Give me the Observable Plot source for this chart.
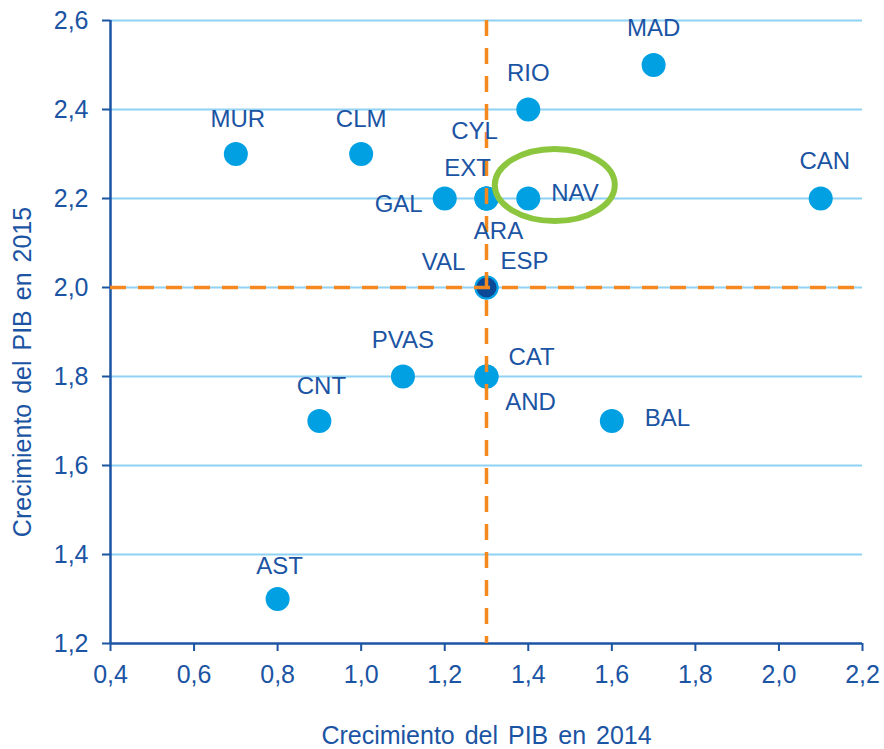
<!DOCTYPE html>
<html>
<head>
<meta charset="utf-8">
<script src="https://cdn.jsdelivr.net/npm/d3@7"></script>
<script src="https://cdn.jsdelivr.net/npm/@observablehq/plot@0.6"></script>
<style>
  html, body { margin: 0; padding: 0; background: #fff; }
  #chart svg { display: block; font-family: "Liberation Sans", Arial, sans-serif; }
</style>
</head>
<body>
<div id="chart"></div>
<script>
// ---- data ----
const regions = ["MUR","CLM","GAL","EXT","CYL","ARA","NAV","RIO","MAD","CAN","VAL","ESP","PVAS","CAT","AND","CNT","BAL","AST"];
const pib2014 = [0.7, 1.0, 1.2, 1.3, 1.3, 1.3, 1.4, 1.4, 1.7, 2.1, 1.3, 1.3, 1.1, 1.3, 1.3, 0.9, 1.6, 0.8];
const pib2015 = [2.3, 2.3, 2.2, 2.2, 2.2, 2.2, 2.2, 2.4, 2.5, 2.2, 2.0, 2.0, 1.8, 1.8, 1.8, 1.7, 1.7, 1.3];
const xTicks = [0.4, 0.6, 0.8, 1.0, 1.2, 1.4, 1.6, 1.8, 2.0, 2.2];
const yTicks = [1.2, 1.4, 1.6, 1.8, 2.0, 2.2, 2.4, 2.6];
const xTitle = "Crecimiento del PIB en 2014";
const yTitle = "Crecimiento del PIB en 2015";
const highlight = "NAV";
const national = "ESP";

// ---- label layout (pixel offsets from each dot) ----
const labelLayout = {
  MUR: [2, -35, "middle"], CLM: [0, -35, "middle"], GAL: [-22, 6, "end"],
  EXT: [-19, -30, "middle"], CYL: [-12, -67, "middle"], ARA: [12, 33, "middle"],
  NAV: [23, -5, "start"], RIO: [0, -36, "middle"], MAD: [0, -37, "middle"],
  CAN: [4, -37, "middle"], VAL: [-43, -25, "middle"], ESP: [38, -26, "middle"],
  PVAS: [0, -36, "middle"], CAT: [45, -19, "middle"], AND: [44, 26, "middle"],
  CNT: [2, -35, "middle"], BAL: [33, -3, "start"], AST: [2, -33, "middle"]
};

const rows = regions.map((r, i) => ({region: r, x: pib2014[i], y: pib2015[i]}));
const esp = rows.find(d => d.region === national);
const nav = rows.find(d => d.region === highlight);

const textColor = "#1b54a3";
const dotColor = "#00a0e3";
const gridColor = "#8fd2f3";
const orange = "#f5891f";
const green = "#8cc63f";
const fmt = d => d.toFixed(1).replace(".", ",");

const labelMarks = rows.map(d => {
  const [dx, dy, anchor] = labelLayout[d.region];
  return Plot.text([d], {x: "x", y: "y", text: "region", dx, dy, textAnchor: anchor,
    lineAnchor: "middle", fill: textColor, fontSize: 24});
});

const chart = Plot.plot({
  width: 884,
  height: 749,
  marginLeft: 110,
  marginRight: 22,
  marginTop: 20,
  marginBottom: 106,
  style: {fontFamily: "'Liberation Sans', Arial, sans-serif", background: "#fff"},
  x: {domain: [0.4, 2.2]},
  y: {domain: [1.2, 2.6]},
  marks: [
    Plot.ruleY(yTicks.filter(t => t > 1.2), {stroke: gridColor, strokeWidth: 2}),
    Plot.axisX({ticks: xTicks, tickFormat: fmt, tickSize: 8, tickPadding: 14, fontSize: 25,
      color: textColor, stroke: textColor, strokeWidth: 2, label: null}),
    Plot.axisY({ticks: yTicks, tickFormat: fmt, tickSize: 8, tickPadding: 14, fontSize: 25,
      color: textColor, stroke: textColor, strokeWidth: 2, label: null}),
    Plot.ruleX([0.4], {stroke: textColor, strokeWidth: 2.5}),
    Plot.ruleY([1.2], {stroke: textColor, strokeWidth: 2.5}),
    Plot.dot(rows.filter(d => d.region !== national), {x: "x", y: "y", r: 12, fill: dotColor}),
    Plot.dot([esp], {x: "x", y: "y", r: 11, fill: "#0b4896", stroke: dotColor, strokeWidth: 2}),
    Plot.ruleX([esp.x], {stroke: orange, strokeWidth: 3.5, strokeDasharray: "16,12"}),
    Plot.ruleY([esp.y], {stroke: orange, strokeWidth: 3.5, strokeDasharray: "16,12"}),
    ...labelMarks,
    Plot.text([xTitle], {frameAnchor: "bottom", dy: 92, textAnchor: "middle", lineAnchor: "middle", fill: textColor, fontSize: 25}),
    Plot.text([yTitle], {frameAnchor: "left", dx: -88, dy: 40, rotate: -90, textAnchor: "middle", lineAnchor: "middle", fill: textColor, fontSize: 25})
  ]
});

// highlight ellipse around NAV, positioned through the chart's scales
const sx = chart.scale("x"), sy = chart.scale("y");
d3.select(chart).append("ellipse")
  .attr("cx", sx.apply(nav.x) + 27)
  .attr("cy", sy.apply(nav.y) - 13)
  .attr("rx", 60).attr("ry", 36)
  .attr("fill", "none").attr("stroke", green).attr("stroke-width", 6);

d3.select(chart).selectAll("text")
  .filter(function() { return this.textContent.startsWith("Crecimiento"); })
  .style("word-spacing", "3px");

document.getElementById("chart").appendChild(chart);
</script>
</body>
</html>
